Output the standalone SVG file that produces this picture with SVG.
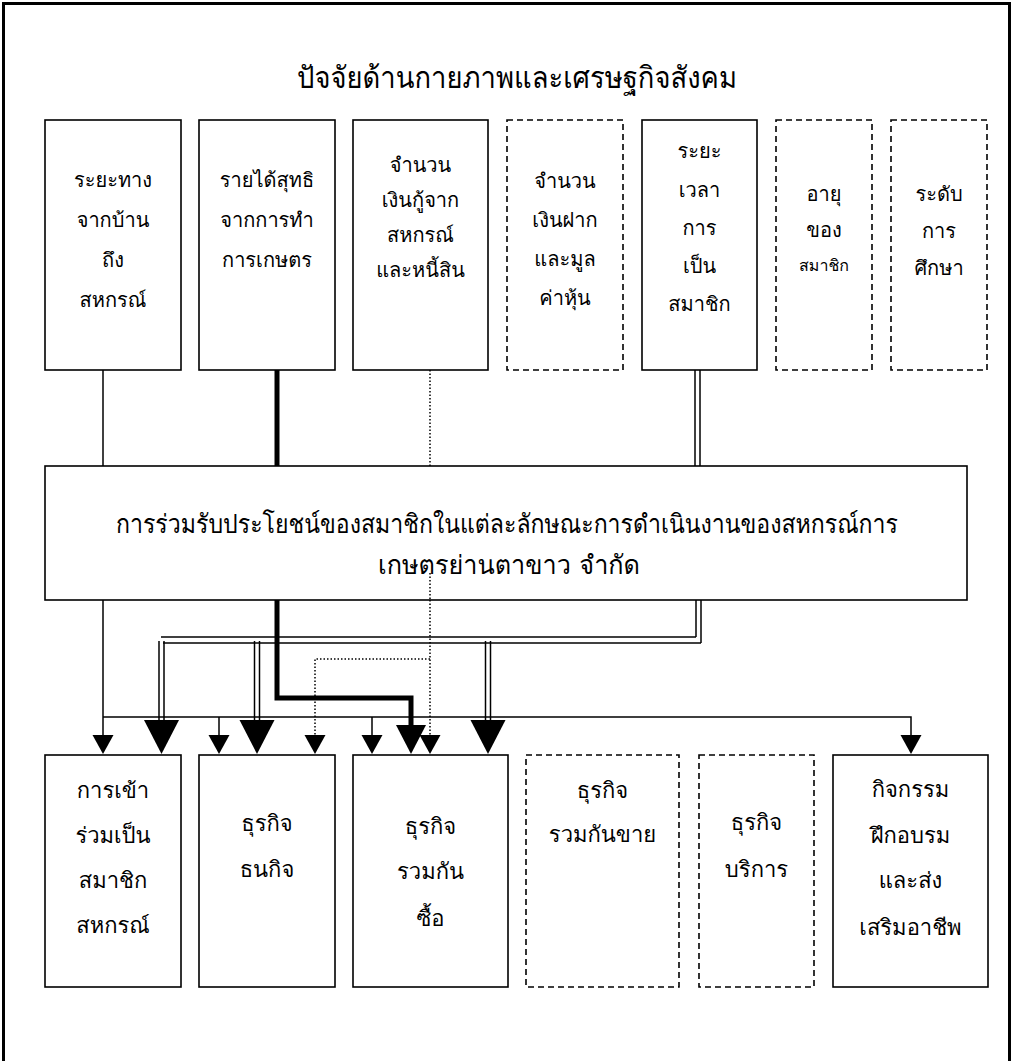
<svg xmlns="http://www.w3.org/2000/svg" width="1013" height="1061" viewBox="0 0 1013 1061">
<style>
.bx{fill:#fff;stroke:#000;stroke-width:1.6}
.dbx{fill:#fff;stroke:#000;stroke-width:1.6;stroke-dasharray:6 4}
.t{font-family:"Loma","Noto Sans Thai Looped","Garuda","Tahoma","Noto Sans Thai","Noto Sans","DejaVu Sans",sans-serif;fill:#000;text-anchor:middle}
.ts{font-size:20px}
.tb{font-size:22px}
.ln{stroke:#000;stroke-width:1.5;fill:none}
.thk{stroke:#000;stroke-width:5;fill:none}
.dot{stroke:#000;stroke-width:1.5;fill:none;stroke-dasharray:1.5 2}
.ah{fill:#000}
</style>
<rect width="1013" height="1061" fill="#fff"/>
<path d="M3.5,1061 V3.5 H1009.5 V1061" fill="none" stroke="#000" stroke-width="3"/>
<text class="t" x="517" y="88" font-size="30" textLength="440" lengthAdjust="spacingAndGlyphs">ปัจจัยด้านกายภาพและเศรษฐกิจสังคม</text>

<g id="connectors">
  <line class="ln" x1="103" y1="370" x2="103" y2="466"/>
  <line class="thk" x1="277" y1="370" x2="277" y2="466"/>
  <line class="dot" x1="430" y1="370" x2="430" y2="466"/>
  <line class="ln" x1="695" y1="370" x2="695" y2="466"/>
  <line class="ln" x1="700" y1="370" x2="700" y2="466"/>
  <line class="ln" x1="103" y1="600" x2="103" y2="737"/>
  <polyline class="ln" points="103,717 911,717 911,737"/>
  <line class="ln" x1="219" y1="717" x2="219" y2="737"/>
  <line class="ln" x1="372" y1="717" x2="372" y2="737"/>
  <polygon class="ah" points="92.5,735 113.5,735 103,754"/>
  <polygon class="ah" points="208.5,735 229.5,735 219,754"/>
  <polygon class="ah" points="361.5,735 382.5,735 372,754"/>
  <polygon class="ah" points="900.5,735 921.5,735 911,754"/>
  <line class="ln" x1="696" y1="600" x2="696" y2="637"/>
  <line class="ln" x1="701" y1="600" x2="701" y2="643"/>
  <line class="ln" x1="161" y1="637" x2="696" y2="637"/>
  <line class="ln" x1="163" y1="643" x2="701" y2="643"/>
  <line class="ln" x1="159" y1="641" x2="159" y2="722"/>
  <line class="ln" x1="164" y1="641" x2="164" y2="722"/>
  <line class="ln" x1="254.5" y1="641" x2="254.5" y2="722"/>
  <line class="ln" x1="259.5" y1="641" x2="259.5" y2="722"/>
  <line class="ln" x1="485.5" y1="641" x2="485.5" y2="722"/>
  <line class="ln" x1="490.5" y1="641" x2="490.5" y2="722"/>
  <polygon class="ah" points="144,720 179,720 161.5,754"/>
  <polygon class="ah" points="239.5,720 274.5,720 257,754"/>
  <polygon class="ah" points="470.5,720 505.5,720 488,754"/>
  <polyline class="thk" points="277,600 277,698 411,698 411,727"/>
  <polygon class="ah" points="396,725 426,725 411,754"/>
  <line class="dot" x1="430" y1="600" x2="430" y2="737"/>
  <polyline class="dot" points="430,659 315,659 315,737"/>
  <polygon class="ah" points="419.5,735 440.5,735 430,754"/>
  <polygon class="ah" points="304.5,735 325.5,735 315,754"/>
</g>

<g id="top1"><rect class="bx" x="45" y="120" width="136" height="250"/>
<text class="t ts"><tspan x="113" y="187">ระยะทาง</tspan><tspan x="113" y="227">จากบ้าน</tspan><tspan x="113" y="267">ถึง</tspan><tspan x="113" y="307">สหกรณ์</tspan></text></g>
<g id="top2"><rect class="bx" x="199" y="120" width="136" height="250"/>
<text class="t ts"><tspan x="267" y="187">รายได้สุทธิ</tspan><tspan x="267" y="227">จากการทำ</tspan><tspan x="267" y="267">การเกษตร</tspan></text></g>
<g id="top3"><rect class="bx" x="353" y="120" width="135" height="250"/>
<text class="t ts"><tspan x="420.5" y="172">จำนวน</tspan><tspan x="420.5" y="207">เงินกู้จาก</tspan><tspan x="420.5" y="242">สหกรณ์</tspan><tspan x="420.5" y="277">และหนี้สิน</tspan></text></g>
<g id="top4"><rect class="dbx" x="507" y="120" width="116" height="250"/>
<text class="t ts"><tspan x="565" y="188">จำนวน</tspan><tspan x="565" y="227">เงินฝาก</tspan><tspan x="565" y="266">และมูล</tspan><tspan x="565" y="305">ค่าหุ้น</tspan></text></g>
<g id="top5"><rect class="bx" x="642" y="120" width="115" height="250"/>
<text class="t ts"><tspan x="699.5" y="158">ระยะ</tspan><tspan x="699.5" y="197">เวลา</tspan><tspan x="699.5" y="235">การ</tspan><tspan x="699.5" y="273">เป็น</tspan><tspan x="699.5" y="311">สมาชิก</tspan></text></g>
<g id="top6"><rect class="dbx" x="776" y="120" width="96" height="250"/>
<text class="t ts"><tspan x="824" y="201">อายุ</tspan><tspan x="824" y="237">ของ</tspan><tspan x="824" y="271" font-size="16">สมาชิก</tspan></text></g>
<g id="top7"><rect class="dbx" x="891" y="120" width="96" height="250"/>
<text class="t ts"><tspan x="939" y="201">ระดับ</tspan><tspan x="939" y="238">การ</tspan><tspan x="939" y="275">ศึกษา</tspan></text></g>

<g id="middle"><rect class="bx" x="45" y="466" width="922" height="134"/>
<line class="dot" x1="430" y1="573" x2="430" y2="600"/>
<text class="t" font-size="26" x="507" y="533" textLength="782" lengthAdjust="spacingAndGlyphs">การร่วมรับประโยชน์ของสมาชิกในแต่ละลักษณะการดำเนินงานของสหกรณ์การ</text>
<text class="t" font-size="26" x="509" y="574" textLength="262" lengthAdjust="spacingAndGlyphs">เกษตรย่านตาขาว  จำกัด</text></g>

<g id="bot1"><rect class="bx" x="45" y="755" width="136" height="232"/>
<text class="t tb"><tspan x="113" y="798">การเข้า</tspan><tspan x="113" y="843">ร่วมเป็น</tspan><tspan x="113" y="888">สมาชิก</tspan><tspan x="113" y="933">สหกรณ์</tspan></text></g>
<g id="bot2"><rect class="bx" x="199" y="755" width="136" height="232"/>
<text class="t tb"><tspan x="267" y="831">ธุรกิจ</tspan><tspan x="267" y="877">ธนกิจ</tspan></text></g>
<g id="bot3"><rect class="bx" x="353" y="755" width="155" height="232"/>
<text class="t tb"><tspan x="430.5" y="834">ธุรกิจ</tspan><tspan x="430.5" y="879">รวมกัน</tspan><tspan x="430.5" y="926">ซื้อ</tspan></text></g>
<g id="bot4"><rect class="dbx" x="526" y="755" width="153" height="232"/>
<text class="t tb"><tspan x="602.5" y="798">ธุรกิจ</tspan><tspan x="602.5" y="842">รวมกันขาย</tspan></text></g>
<g id="bot5"><rect class="dbx" x="699" y="755" width="115" height="232"/>
<text class="t tb"><tspan x="756.5" y="830">ธุรกิจ</tspan><tspan x="756.5" y="877">บริการ</tspan></text></g>
<g id="bot6"><rect class="bx" x="833" y="755" width="155" height="232"/>
<text class="t tb"><tspan x="910.5" y="797">กิจกรรม</tspan><tspan x="910.5" y="843">ฝึกอบรม</tspan><tspan x="910.5" y="888">และส่ง</tspan><tspan x="910.5" y="935">เสริมอาชีพ</tspan></text></g>
</svg>
